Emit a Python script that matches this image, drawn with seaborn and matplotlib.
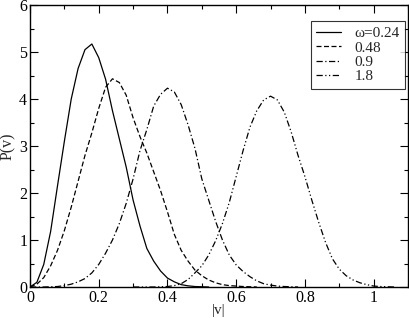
import matplotlib
matplotlib.use("Agg")
import matplotlib.pyplot as plt
import seaborn as sns
import numpy as np
import pandas as pd
from matplotlib.ticker import MultipleLocator

# --- data ---
x_024 = [0.00, 0.02, 0.04, 0.06, 0.08, 0.10, 0.12, 0.14, 0.16, 0.18, 0.20, 0.22, 0.24,
         0.26, 0.28, 0.30, 0.32, 0.34, 0.36, 0.38, 0.40, 0.42, 0.44, 0.46, 0.48, 0.50, 0.52]
p_024 = [0.00, 0.10, 0.48, 1.18, 2.15, 3.10, 4.00, 4.65, 5.05, 5.17, 4.88, 4.42, 3.75,
         3.15, 2.55, 1.85, 1.30, 0.82, 0.55, 0.34, 0.19, 0.11, 0.05, 0.025, 0.01, 0.005, 0.00]

x_048 = [0.00, 0.02, 0.04, 0.06, 0.08, 0.10, 0.12, 0.14, 0.16, 0.18, 0.20, 0.22, 0.24,
         0.26, 0.28, 0.30, 0.32, 0.34, 0.36, 0.38, 0.40, 0.42, 0.44, 0.46, 0.48, 0.50,
         0.52, 0.54, 0.56, 0.58, 0.60, 0.62, 0.64, 0.66]
p_048 = [0.00, 0.06, 0.20, 0.45, 0.78, 1.20, 1.70, 2.25, 2.80, 3.28, 3.80, 4.25, 4.43,
         4.35, 4.08, 3.60, 3.20, 2.85, 2.45, 2.05, 1.60, 1.12, 0.78, 0.55, 0.36, 0.24,
         0.15, 0.09, 0.05, 0.03, 0.02, 0.01, 0.005, 0.00]

x_09 = [0.00, 0.02, 0.04, 0.06, 0.08, 0.10, 0.12, 0.14, 0.16, 0.18, 0.20, 0.22, 0.24,
        0.26, 0.28, 0.30, 0.32, 0.34, 0.36, 0.38, 0.40, 0.42, 0.44, 0.46, 0.48, 0.50,
        0.52, 0.54, 0.56, 0.58, 0.60, 0.62, 0.64, 0.66, 0.68, 0.70, 0.72, 0.74, 0.76, 0.78]
p_09 = [0.00, 0.00, 0.00, 0.005, 0.01, 0.03, 0.06, 0.11, 0.18, 0.30, 0.48, 0.72, 1.00,
        1.35, 1.78, 2.30, 2.90, 3.35, 3.85, 4.10, 4.23, 4.15, 3.88, 3.45, 2.95, 2.30,
        1.85, 1.40, 1.00, 0.68, 0.47, 0.33, 0.22, 0.13, 0.07, 0.04, 0.02, 0.01, 0.005, 0.00]

x_18 = [0.30, 0.32, 0.34, 0.36, 0.38, 0.40, 0.42, 0.44, 0.46, 0.48, 0.50, 0.52, 0.54,
        0.56, 0.58, 0.60, 0.62, 0.64, 0.66, 0.68, 0.70, 0.72, 0.74, 0.76, 0.78, 0.80,
        0.82, 0.84, 0.86, 0.88, 0.90, 0.92, 0.94, 0.96, 0.98, 1.00, 1.02, 1.04, 1.06]
p_18 = [0.00, 0.00, 0.00, 0.00, 0.005, 0.01, 0.03, 0.07, 0.16, 0.30, 0.45, 0.68, 0.98,
        1.35, 1.80, 2.35, 2.90, 3.40, 3.75, 3.98, 4.06, 3.98, 3.72, 3.30, 2.80, 2.35,
        1.85, 1.38, 0.95, 0.60, 0.38, 0.24, 0.15, 0.09, 0.05, 0.02, 0.01, 0.005, 0.00]

labels = ["\u03c9=0.24", "0.48", "0.9", "1.8"]
x_ticks = [0, 0.2, 0.4, 0.6, 0.8, 1]
x_ticklabels = ["0", "0.2", "0.4", "0.6", "0.8", "1"]
y_ticks = [0, 1, 2, 3, 4, 5, 6]

sns.set_theme(style="white")
plt.rcParams["font.family"] = ["Liberation Serif", "DejaVu Serif"]

W, H = 409, 318
fig = plt.figure(figsize=(W / 100, H / 100), dpi=100)
ax = fig.add_axes([30 / W, 1 - 287 / H, 378 / W, 282 / H])

styles = ["-", (0, (4, 2)), (0, (5, 2, 1, 2)), (0, (5, 2, 1, 2, 1, 2))]
series = [(x_024, p_024), (x_048, p_048), (x_09, p_09), (x_18, p_18)]
handles = []
for (xs, ps), ls, lab in zip(series, styles, labels):
    df = pd.DataFrame({"v": xs, "P": ps})
    sns.lineplot(data=df, x="v", y="P", ax=ax, color="black", linewidth=0.9,
                 linestyle=ls, label=lab, legend=False)
    handles.append(ax.lines[-1])

ax.set_xlim(0, 1.1)
ax.set_ylim(0, 6)
ax.set_xticks(x_ticks)
ax.set_xticklabels(x_ticklabels)
ax.set_yticks(y_ticks)
ax.xaxis.set_minor_locator(MultipleLocator(0.1))
ax.yaxis.set_minor_locator(MultipleLocator(0.5))
ax.tick_params(which="both", direction="in", top=True, right=True, bottom=True, left=True,
               colors="black", labelsize=11.5, width=0.8)
ax.tick_params(which="major", length=6, pad=2)
ax.tick_params(which="minor", length=3)
for s in ax.spines.values():
    s.set_color("black")
    s.set_linewidth(1.0)
    s.set_visible(True)

ax.set_xlabel("|v|", fontsize=11, labelpad=-1)
ax.set_ylabel("P(v)", fontsize=11.5, labelpad=2)

leg = ax.legend(handles=handles, labels=labels, loc="upper right",
                bbox_to_anchor=(405 / W, 1 - 21 / H), bbox_transform=fig.transFigure,
                frameon=True, fancybox=False, shadow=False, fontsize=11,
                handlelength=1.6, handletextpad=0.9, borderpad=0.35, labelspacing=0.05,
                borderaxespad=0)
leg.get_frame().set_edgecolor("black")
leg.get_frame().set_linewidth(0.8)
leg.get_frame().set_facecolor("white")

fig.savefig("out.png", dpi=100)
